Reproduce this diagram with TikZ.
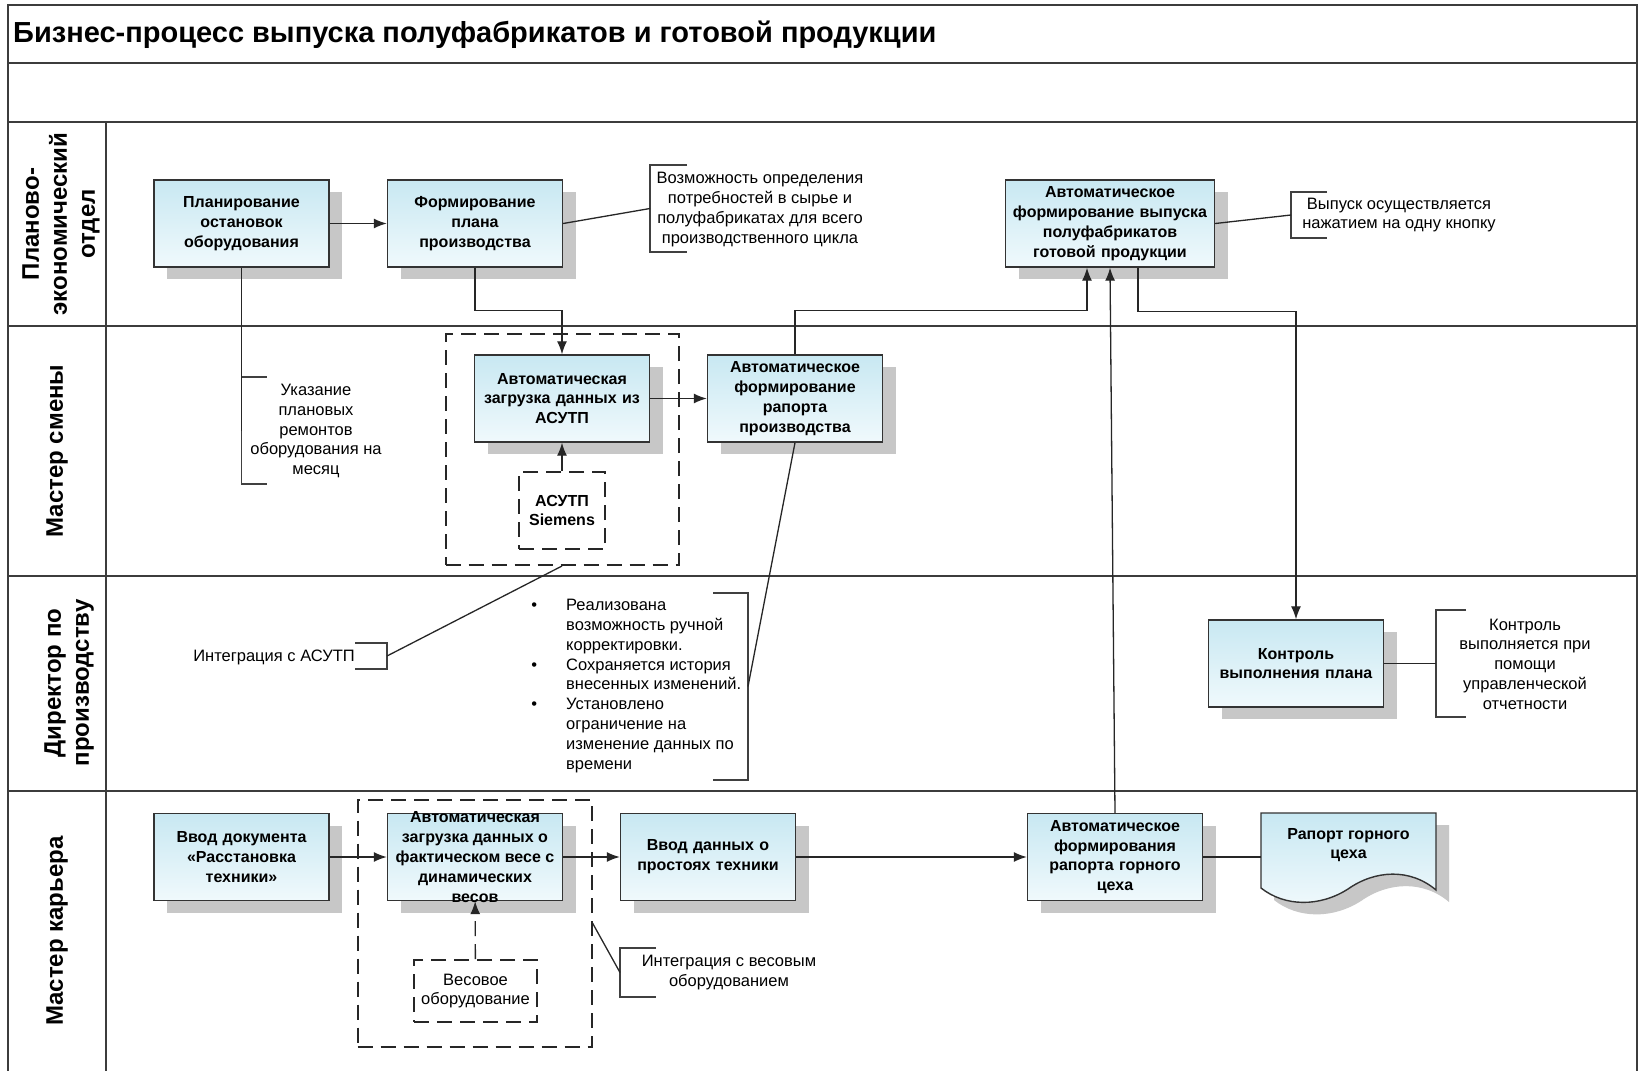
\documentclass[tikz,border=0pt]{standalone}
\usepackage{fontspec}
\setmainfont{Liberation Sans}
\usetikzlibrary{calc,shadows,arrows.meta}
\definecolor{boxtop}{RGB}{200,232,242}
\definecolor{boxbot}{RGB}{240,249,252}
\definecolor{framegray}{RGB}{60,60,60}
\newcommand\procfont{\fontsize{16}{19.8}\selectfont\bfseries}
\newcommand\annfont{\fontsize{16.5}{19.8}\selectfont}
\newcommand\itemdot{\llap{•\hskip 29pt}}
\tikzset{
  procbox/.style={draw=black!80, line width=1.4pt, top color=boxtop, bottom color=boxbot,
    minimum width=175pt, minimum height=87pt, text width=169pt, inner sep=3pt,
    align=center, font=\procfont,
    drop shadow={shadow xshift=13pt, shadow yshift=-12pt, fill=black!22, opacity=1}},
  boxtext/.style={align=center, font=\procfont, inner sep=0pt},
  grpbox/.style={draw=black!85, line width=2pt, dash pattern=on 15pt off 8pt},
  note/.style={align=center, font=\annfont, inner sep=0pt},
  brk/.style={draw=black!75, line width=1.3pt},
  link/.style={draw=black!85, line width=1.3pt},
  flow/.style={link, -{Latex[length=13pt,width=10pt]}},
  lanehead/.style={rotate=90, align=center, font=\fontsize{24}{28}\selectfont\bfseries},
  laneline/.style={draw=framegray, line width=2.6pt}
}

\begin{document}
\begin{tikzpicture}[x=1pt,y=-1pt]
    \useasboundingbox (0,0) rectangle (1639,1071);
    \fill[white] (0,0) rectangle (1639,1071);

    % frame and lanes
    \draw[laneline] (8,1071) -- (8,5) -- (1637,5) -- (1637,1071);
    \foreach \y in {63,122,326,576,791}
        \draw[laneline] (8,\y) -- (1637,\y);
    \draw[laneline] (106,122) -- (106,1071);

    \node[anchor=west, inner sep=0pt, font=\fontsize{29}{31}\selectfont\bfseries] (title) at (13,34.5) {Бизнес-процесс выпуска полуфабрикатов и готовой продукции};

    \node[lanehead] (lane1) at (61,224) {Планово-\\экономический\\отдел};
    \node[lanehead] (lane2) at (57,451) {Мастер смены};
    \node[lanehead] (lane3) at (69,683) {Директор по\\производству};
    \node[lanehead] (lane4) at (57,931) {Мастер карьера};

    % dashed groups
    \node[grpbox, minimum width=233pt, minimum height=231pt] (asutpgrp) at (562,449.5) {};
    \node[grpbox, minimum width=234pt, minimum height=247pt] (vesgrp) at (474.5,923) {};
    \node[grpbox, minimum width=86pt, minimum height=77pt, align=center, font=\procfont] (siemens) at (562,510.5) {АСУТП\\Siemens};
    \node[grpbox, minimum width=123pt, minimum height=62pt, align=center, font=\annfont] (vesovoe) at (475.5,991) {Весовое\\оборудование};

    \node[procbox] (plan1) at (241.5,223.5) {Планирование\\остановок\\оборудования};
    \node[procbox] (plan2) at (475,223.5) {Формирование\\плана\\производства};
    \node[procbox, minimum width=209pt, text width=203pt] (vypusk) at (1110,223.5) {Автоматическое\\формирование выпуска\\полуфабрикатов\\готовой продукции};
    \node[procbox] (asutpload) at (562,398.5) {Автоматическая\\загрузка данных из\\АСУТП};
    \node[procbox] (raport) at (795,398.5) {Автоматическое\\формирование\\рапорта\\производства};
    \node[procbox] (kontrol) at (1296,663.5) {Контроль\\выполнения плана};
    \node[procbox] (vvoddoc) at (241.5,857) {Ввод документа\\«Расстановка\\техники»};
    \node[procbox] (vesload) at (475,857) {};
    \node[boxtext] at (vesload) {Автоматическая\\загрузка данных о\\фактическом весе с\\динамических\\весов};
    \node[procbox] (prostoi) at (708,857) {Ввод данных о\\простоях техники};
    \node[procbox] (gornrep) at (1115,857) {Автоматическое\\формирования\\рапорта горного\\цеха};

    % document shape
    \fill[black!22, shift={(13,12)}] (1261,813) -- (1436,813) -- (1436,890) .. controls (1410,868) and (1375,870) .. (1348,889) .. controls (1320,907) and (1285,907) .. (1261,888) -- cycle;
    \draw[draw=black!80, line width=1.4pt, top color=boxtop, bottom color=boxbot] (1261,813) -- (1436,813) -- (1436,890) .. controls (1410,868) and (1375,870) .. (1348,889) .. controls (1320,907) and (1285,907) .. (1261,888) -- cycle;
    \node[boxtext, minimum width=175pt, minimum height=64pt] (docrep) at (1348.5,845) {Рапорт горного\\цеха};

    % notes
    \foreach \name/\x/\ya/\yb/\d in {n1/650/165/252/37, n2/1291/192/238/36, n3/241.5/377/484/25,
        n4/387/643/669/-32, n5/748/593/780/-35, n6/1436/610/717/30, n7/620/948/997/36}{
        \draw[brk] (\x+\d,\ya) -- (\x,\ya) -- (\x,\yb) -- (\x+\d,\yb);
        \coordinate (\name) at (\x,{(\ya+\yb)/2});
    }
    \node[note] (t1) at (760,209.5) {Возможность определения\\потребностей в сырье и\\полуфабрикатах для всего\\производственного цикла};
    \node[note] (t2) at (1399,215) {Выпуск осуществляется\\нажатием на одну кнопку};
    \node[note] (t3) at (316,431) {Указание\\плановых\\ремонтов\\оборудования на\\месяц};
    \node[note] (t4) at (274,657) {Интеграция с АСУТП};
    \node[note, align=left, anchor=west] (t5) at (566,686) {\itemdot Реализована\\возможность ручной\\корректировки.\\\itemdot Сохраняется история\\внесенных изменений.\\\itemdot Установлено\\ограничение на\\изменение данных по\\времени};
    \node[note] (t6) at (1525,664) {Контроль\\выполняется при\\помощи\\управленческой\\отчетности};
    \node[note] (t7) at (729,972.5) {Интеграция с весовым\\оборудованием};

    % connectors
    \draw[flow] (plan1) -- (plan2);
    \draw[flow] (plan2.south) -- ++(0,43) -| (asutpload.north);
    \draw[flow] (siemens) -- (asutpload);
    \draw[flow] (asutpload) -- (raport);
    \draw[flow] (raport.north) -- ++(0,-44) -| ($(vypusk.south)+(-23,0)$);
    \draw[flow] (gornrep.north) -- (vypusk.south);
    \draw[flow] ($(vypusk.south)+(28,0)$) -- ++(0,43.5) -| (kontrol.north);
    \draw[flow] (vvoddoc) -- (vesload);
    \draw[flow] (vesload) -- (prostoi);
    \draw[flow] (prostoi) -- (gornrep);
    \draw[flow, dash pattern=on 15pt off 8pt] (vesovoe) -- (vesload);
    \draw[link] (gornrep.east) -- (gornrep.east -| docrep.west);

    \draw[link] (plan2.east) -- (n1);
    \draw[link] (vypusk.east) -- (n2);
    \draw[link] (plan1.south) -- (n3);
    \draw[link] (asutpgrp.south) -- (n4);
    \draw[link] (raport.south) -- (n5);
    \draw[link] (kontrol.east) -- (n6);
    \draw[link] (vesgrp.east) -- (n7);
\end{tikzpicture}
\end{document}
